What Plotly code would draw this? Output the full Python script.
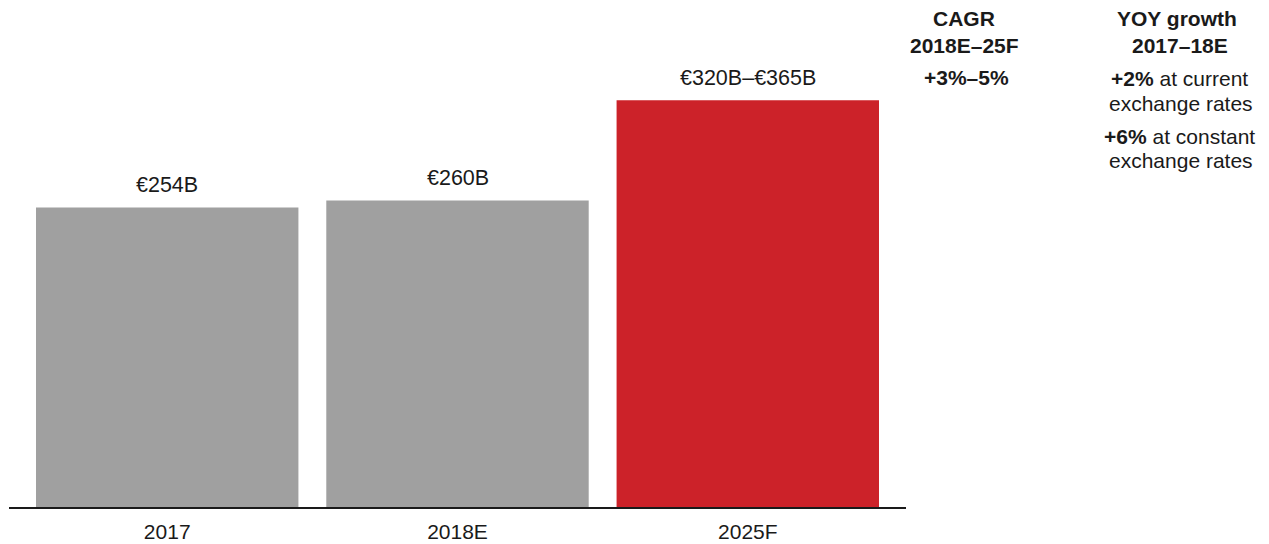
import plotly.graph_objects as go

# Market size by year (EUR billions)
categories = ["2017", "2018E", "2025F"]
values = [254, 260, 345]
labels = ["€254B", "€260B", "€320B–€365B"]
bar_colors = ["#a0a0a0", "#a0a0a0", "#cc2229"]

# Side-panel growth notes
cagr_title = ["CAGR", "2018E–25F"]
cagr_value = "+3%–5%"
yoy_title = ["YOY growth", "2017–18E"]
yoy_notes = [("+2%", "at current", "exchange rates"),
             ("+6%", "at constant", "exchange rates")]

FONT = "Liberation Sans, Arial, sans-serif"
TXT = "#1a1a1a"
W, H = 1269, 544
ML, MR, MT, MB = 9, 363, 0, 37
PLOT_W = W - ML - MR
PLOT_H = H - MT - MB


def px(x):
    return (x - ML) / PLOT_W


def py(y):
    return (H - MB - y) / PLOT_H


fig = go.Figure(go.Bar(
    x=categories, y=values,
    marker=dict(color=bar_colors, line=dict(width=0)),
    width=0.904,
    hoverinfo="skip",
))

annotations = []
for i, (v, t) in enumerate(zip(values, labels)):
    annotations.append(dict(x=i, y=v, xref="x", yref="y", text=t,
                            showarrow=False, yanchor="bottom", yshift=8,
                            font=dict(size=21.5, color=TXT, family=FONT)))


def side(text, xc, yc, bold=False):
    annotations.append(dict(x=px(xc), y=py(yc), xref="paper", yref="paper",
                            text=f"<b>{text}</b>" if bold else text,
                            showarrow=False, xanchor="center", yanchor="middle",
                            font=dict(size=21, color=TXT, family=FONT)))


side(cagr_title[0], 964, 19, bold=True)
side(cagr_title[1], 964, 45, bold=True)
side(cagr_value, 966, 77, bold=True)

side(yoy_title[0], 1177, 19, bold=True)
side(yoy_title[1], 1180, 45, bold=True)
y0 = 78
for pct, rest, line2 in yoy_notes:
    side(f"<b>{pct}</b> {rest}", 1179, y0)
    side(line2, 1181, y0 + 25)
    y0 += 58

fig.update_layout(
    width=W, height=H,
    margin=dict(l=ML, r=MR, t=MT, b=MB),
    paper_bgcolor="white", plot_bgcolor="white",
    showlegend=False,
    font=dict(family=FONT, color=TXT),
    xaxis=dict(type="category", range=[-0.545, 2.545], showline=True,
               linecolor="#1a1a1a", linewidth=1.5, ticks="", showgrid=False,
               zeroline=False, ticklabelstandoff=5,
               tickfont=dict(size=21, color=TXT, family=FONT), fixedrange=True),
    yaxis=dict(range=[0, PLOT_H / 1.1792], visible=False, showgrid=False,
               zeroline=False, fixedrange=True),
    annotations=annotations,
)

fig.write_html("out.html", config={"displayModeBar": False})
